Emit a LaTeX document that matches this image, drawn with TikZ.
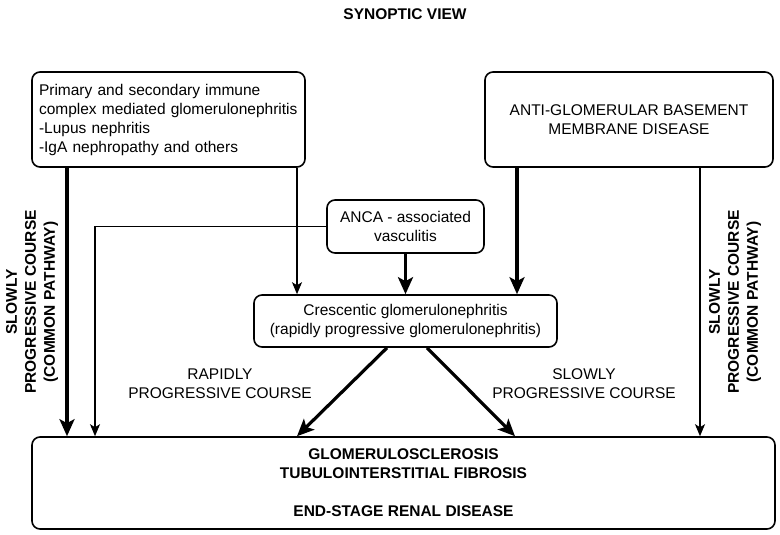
\documentclass[tikz,border=0pt]{standalone}
\usepackage{fontspec}
\setmainfont{Liberation Sans}
\usetikzlibrary{arrows.meta}
\tikzset{
  box/.style={draw, line width=1.6pt, rounded corners=8pt, inner sep=0pt, align=center,
    font=\fontsize{15.5}{19}\selectfont},
  lbl/.style={align=center, inner sep=0pt, font=\fontsize{15.5}{19}\selectfont},
  blbl/.style={align=center, inner sep=0pt, font=\fontsize{15.5}{19}\selectfont\bfseries},
  bigarrow/.style={line width=3.2pt, -{Stealth[length=17pt, width=15pt, inset=4pt]}},
  smallarrow/.style={line width=1.4pt, -{Stealth[length=12pt, width=10pt, inset=3pt]}},
}
\begin{document}
\begin{tikzpicture}[x=1pt, y=-1pt]
\useasboundingbox (0,0) rectangle (780,535);
% title
\node[blbl] (title) at (405,14) {SYNOPTIC VIEW};
% boxes
\node[box, minimum width=273pt, minimum height=95pt, text width=259pt, align=left] (tl) at (168.5,119.5)
  {Primary and secondary immune\\complex mediated glomerulonephritis\\-Lupus nephritis\\-IgA nephropathy and others};
\node[box, minimum width=288pt, minimum height=95pt] (tr) at (629,119.5)
  {ANTI-GLOMERULAR BASEMENT\\MEMBRANE DISEASE};
\node[box, minimum width=157pt, minimum height=53pt] (anca) at (405.5,226.5)
  {ANCA - associated\\vasculitis};
\node[box, minimum width=303pt, minimum height=52pt] (cres) at (405.5,321)
  {Crescentic glomerulonephritis\\(rapidly progressive glomerulonephritis)};
\node[box, minimum width=743pt, minimum height=92pt, font=\fontsize{15.5}{19}\selectfont\bfseries] (bot) at (403.5,483)
  {GLOMERULOSCLEROSIS\\TUBULOINTERSTITIAL FIBROSIS\\[19pt]END-STAGE RENAL DISEASE};
% helper coordinates
\coordinate (x67) at (67,0);
\coordinate (x95) at (95,0);
\coordinate (x297) at (297,0);
\coordinate (x517) at (517,0);
\coordinate (x700) at (700,0);
\coordinate (c1) at (387,0);
\coordinate (c2) at (427,0);
\coordinate (b1) at (297,0);
\coordinate (b2) at (515,0);
% connectors
\draw[bigarrow] (tl.south -| x67) -- (bot.north -| x67);
\draw[smallarrow] (anca.west) -- (anca.west -| x95) -- (bot.north -| x95);
\draw[smallarrow] (tl.south -| x297) -- (cres.north -| x297);
\draw[bigarrow] (anca.south) -- (cres.north);
\draw[bigarrow] (tr.south -| x517) -- (cres.north -| x517);
\draw[smallarrow] (tr.south -| x700) -- (bot.north -| x700);
\draw[bigarrow] (cres.south -| c1) -- (bot.north -| b1);
\draw[bigarrow] (cres.south -| c2) -- (bot.north -| b2);
% labels
\node[lbl] (rap) at (220,384) {RAPIDLY\\PROGRESSIVE COURSE};
\node[lbl] (slo) at (584,384) {SLOWLY\\PROGRESSIVE COURSE};
\node[blbl, rotate=90] (vl) at (32,302) {SLOWLY\\PROGRESSIVE COURSE\\(COMMON PATHWAY)};
\node[blbl, rotate=90] (vr) at (735,302) {SLOWLY\\PROGRESSIVE COURSE\\(COMMON PATHWAY)};
\end{tikzpicture}
\end{document}
